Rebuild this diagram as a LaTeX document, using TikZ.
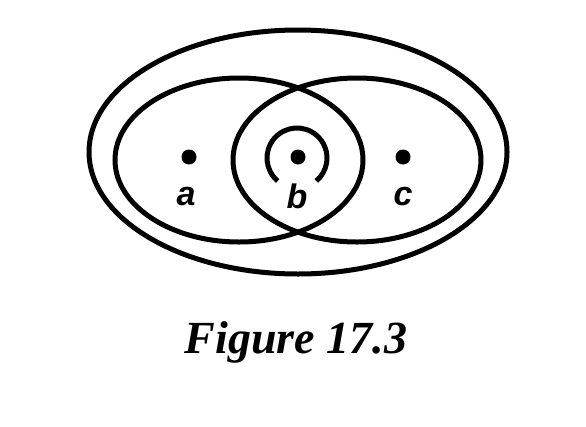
\documentclass[tikz,border=0pt]{standalone}
\usepackage{fontspec}
\setmainfont{Liberation Serif}
\newfontfamily\lblfont{Liberation Sans}
\begin{document}
\begin{tikzpicture}[x=1pt,y=-1pt,
  ring/.style={line width=5pt},
  pt/.style={circle,fill=black,inner sep=0pt,minimum size=15pt},
  lbl/.style={font=\lblfont\bfseries\itshape\fontsize{34}{34}\selectfont,inner sep=0pt},
  figcaption/.style={font=\bfseries\itshape\fontsize{46}{46}\selectfont,inner sep=0pt}]
\useasboundingbox (0,0) rectangle (586,426);
\fill[white] (0,0) rectangle (586,426);
\draw[ring] (298,152) ellipse [x radius=209, y radius=122];
\draw[ring] (239,160) ellipse [x radius=124, y radius=82];
\draw[ring] (357,160) ellipse [x radius=124, y radius=82];
\node[pt] (a) at (189,157) {};
\node[pt] (b) at (298,157) {};
\node[pt] (c) at (403,157) {};
\draw[ring] (297,158) ++(130:30) arc[start angle=130, end angle=410, radius=30];
\node[lbl] (la) at (186,197) {a};
\node[lbl] (lb) at (297,196) {b};
\node[lbl] (lc) at (403,197) {c};
\node[figcaption] (fig) at (296,342) {Figure 17.3};
\end{tikzpicture}
\end{document}
